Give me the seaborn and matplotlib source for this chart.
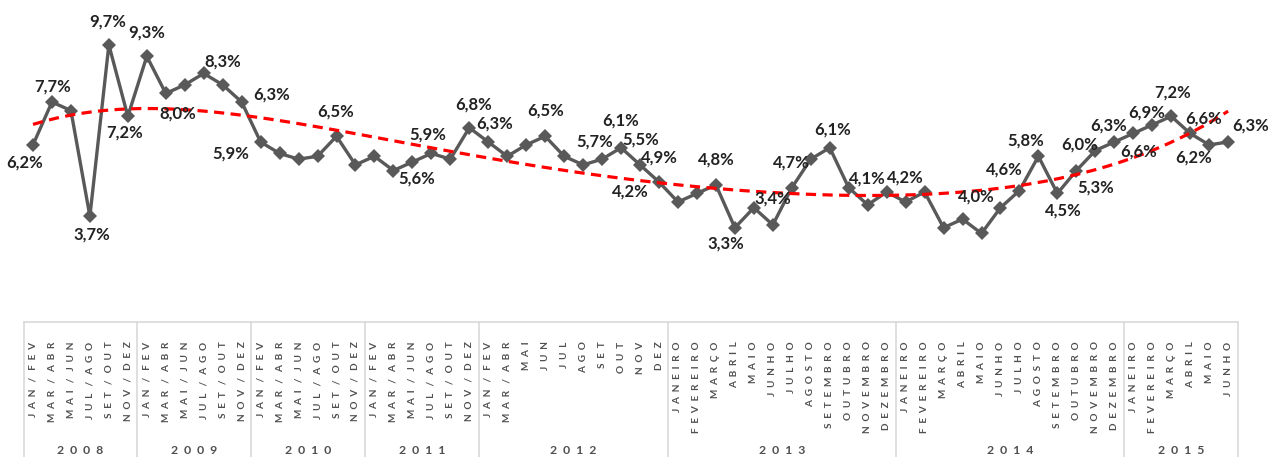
import numpy as np
import matplotlib
matplotlib.use("Agg")
import matplotlib.pyplot as plt
import matplotlib.transforms as mtransforms
import seaborn as sns

# periods of each year (as printed on the axis)
bim = ["JAN / FEV", "MAR / ABR", "MAI / JUN", "JUL / AGO", "SET / OUT", "NOV / DEZ"]
months = ["JANEIRO", "FEVEREIRO", "MARÇO", "ABRIL", "MAIO", "JUNHO", "JULHO",
          "AGOSTO", "SETEMBRO", "OUTUBRO", "NOVEMBRO", "DEZEMBRO"]
p2012 = ["JAN / FEV", "MAR / ABR", "MAI", "JUN", "JUL", "AGO", "SET", "OUT", "NOV", "DEZ"]
p2015 = months[:6]
years = ["2008", "2009", "2010", "2011", "2012", "2013", "2014", "2015"]
year_periods = [bim, bim, bim, bim, p2012, months, months, p2015]

# rate (%) per period
rate = [6.2, 7.7, 7.4, 3.7, 9.7, 7.2,
        9.3, 8.0, 8.3, 8.7, 8.3, 7.7,
        6.3, 5.9, 5.7, 5.8, 6.5, 5.5,
        5.8, 5.3, 5.6, 5.9, 5.7, 6.8,
        6.3, 5.8, 6.2, 6.5, 5.8, 5.5, 5.7, 6.1, 5.5, 4.9,
        4.2, 4.5, 4.8, 3.3, 4.0, 3.4, 4.7, 5.7, 6.1, 4.7, 4.1, 4.55,
        4.2, 4.55, 3.3, 3.6, 3.1, 4.0, 4.6, 5.8, 4.5, 5.3, 6.0, 6.3,
        6.6, 6.9, 7.2, 6.6, 6.2, 6.3]

# which points carry a value label
labelled = [0, 1, 3, 4, 5, 6, 7, 10, 12, 13, 16, 20, 21, 23, 24, 27, 30, 31, 32, 33,
            34, 36, 37, 39, 40, 42, 44, 46, 51, 52, 53, 54, 55, 56, 57, 58, 59, 60,
            61, 62, 63]
# label offsets in pixels (dx, dy)
label_off = [(-8, -18), (1, 15), (2, -18), (-1, 23), (-3, -16), (0, 24), (12, -20),
             (0, 23), (11, 47), (-49, 0), (-1, 25), (4, -17), (-4, 19), (4, 23),
             (6, 18), (0, 26), (-7, 18), (0, 27), (1, 25), (0, 24), (-48, 10),
             (0, 25), (-9, -16), (0, 26), (0, 25), (3, 18), (0, 26), (0, 24),
             (-24, 11), (-15, 21), (-13, 16), (6, -17), (19, -17), (-16, 6),
             (-6, 16), (5, -18), (-6, 12), (1, 24), (13, 15), (-16, -13), (23, 16)]

period_labels = [p for grp in year_periods for p in grp]
x_idx = np.arange(len(rate))

sns.set_style("white")
plt.rcParams["font.family"] = ["Lato", "DejaVu Sans"]

W, H = 1269, 457
fig = plt.figure(figsize=(W / 100, H / 100), dpi=100)
left, right, axis_y = 23.5, 1237.6, 322
ax = fig.add_axes([left / W, (H - axis_y) / H, (right - left) / W, axis_y / H])

sns.lineplot(x=x_idx, y=rate, ax=ax, color="#595959", linewidth=2.4, marker="D",
             markersize=6.8, markeredgewidth=0, zorder=2)
sns.regplot(x=x_idx, y=rate, ax=ax, order=5, scatter=False, ci=None, truncate=True,
            line_kws=dict(color="#ff0000", linewidth=2.3, linestyle=(0, (3.2, 2.0)),
                          zorder=3))

for i, (dx, dy) in zip(labelled, label_off):
    txt = f"{rate[i]:.1f}%".replace(".", ",")
    ax.annotate(txt, xy=(i, rate[i]), xytext=(dx, dy), textcoords="offset pixels",
                ha="center", va="center", fontsize=12, fontweight="bold",
                color="#222222", zorder=5)

ax.set_xlim(-0.5, len(rate) - 0.5)
ax.set_ylim(0, 11.27)
ax.set_yticks([])
ax.set_ylabel("")
for s in ["top", "right", "left"]:
    ax.spines[s].set_visible(False)
ax.spines["bottom"].set_color("#d9d9d9")
ax.spines["bottom"].set_linewidth(1.2)


def spaced(s, sep="  "):
    # letter-spaced words, wider gap round the slash
    return "   /   ".join(sep.join(w) for w in s.split(" / "))


ax.set_xticks(x_idx)
ax.set_xticklabels([spaced(p) for p in period_labels], rotation=90, ha="center",
                   va="top", fontsize=7.2, fontweight="bold", color="#505050")
ax.tick_params(axis="x", length=0, pad=14)

# year groups with separators
trans = mtransforms.blended_transform_factory(ax.transData, ax.transAxes)
bottom = -(H - axis_y) / axis_y
start = 0
bounds = [-0.5]
for yr, grp in zip(years, year_periods):
    end = start + len(grp)
    ax.text((start + end - 1) / 2, -(450 - axis_y) / axis_y, spaced(yr, "  "),
            transform=trans, ha="center", va="center", fontsize=8.8,
            fontweight="bold", color="#505050")
    bounds.append(end - 0.5)
    start = end
for b in bounds:
    ax.plot([b, b], [0, bottom], transform=trans, color="#d9d9d9", linewidth=1.2,
            clip_on=False)

fig.savefig("out.png", dpi=100)
